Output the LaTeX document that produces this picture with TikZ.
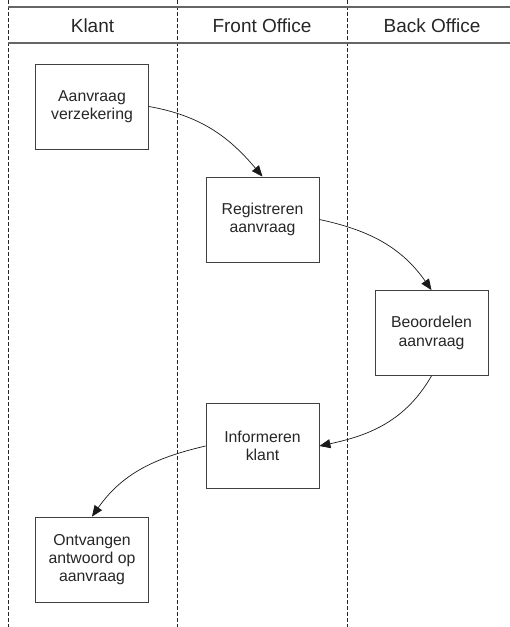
\documentclass[tikz,border=0pt]{standalone}
\usepackage{fontspec}
\setmainfont{Liberation Sans}
\usetikzlibrary{arrows.meta}
\begin{document}
\begin{tikzpicture}[x=1pt,y=-1pt,
  lane/.style={draw=black!85,line width=0.9pt,dash pattern=on 4pt off 2pt},
  rule/.style={draw=black!60,line width=1.5pt},
  title/.style={font=\fontsize{19}{22}\selectfont,text=black!85,anchor=base},
  task/.style={draw=black!75,line width=0.8pt,minimum width=113pt,minimum height=85pt,
    inner sep=0pt,align=center,text=black!85,font=\fontsize{15.8}{18.3}\selectfont},
  flow/.style={draw=black!90,line width=0.7pt,-{Triangle[length=11pt,width=9pt]}}]
\useasboundingbox (0,0) rectangle (510,627);
% swimlane separators and header rules
\coordinate (l1t) at (8,0);   \coordinate (l1b) at (8,627);
\coordinate (l2t) at (177,0); \coordinate (l2b) at (177,627);
\coordinate (l3t) at (347,0); \coordinate (l3b) at (347,627);
\coordinate (h1l) at (8,7);   \coordinate (h1r) at (510,7);
\coordinate (h2l) at (8,43);  \coordinate (h2r) at (510,43);
\draw[lane] (l1t) -- (l1b);
\draw[lane] (l2t) -- (l2b);
\draw[lane] (l3t) -- (l3b);
\draw[rule] (h1l) -- (h1r);
\draw[rule] (h2l) -- (h2r);
% lane titles
\node[title] (tk) at (92.5,32.3) {Klant};
\node[title] (tf) at (262,32.3) {Front Office};
\node[title] (tb) at (432,32.3) {Back Office};
% process steps
\node[task] (aanvraag) at (92,106.5) {Aanvraag\\verzekering};
\node[task] (registreren) at (262.5,219.5) {Registreren\\aanvraag};
\node[task] (beoordelen) at (431.5,333) {Beoordelen\\aanvraag};
\node[task] (informeren) at (262.5,446) {Informeren\\klant};
\node[task] (ontvangen) at (92,559.5) {Ontvangen\\antwoord op\\aanvraag};
% flow
\draw[flow] (aanvraag.east) to[out=-10,in=130] (registreren.north);
\draw[flow] (registreren.east) to[out=-12,in=125] (beoordelen.north);
\draw[flow] (beoordelen.south) to[out=-120,in=12] (informeren.east);
\draw[flow] (informeren.west) to[out=-167,in=55] (ontvangen.north);
\end{tikzpicture}
\end{document}
